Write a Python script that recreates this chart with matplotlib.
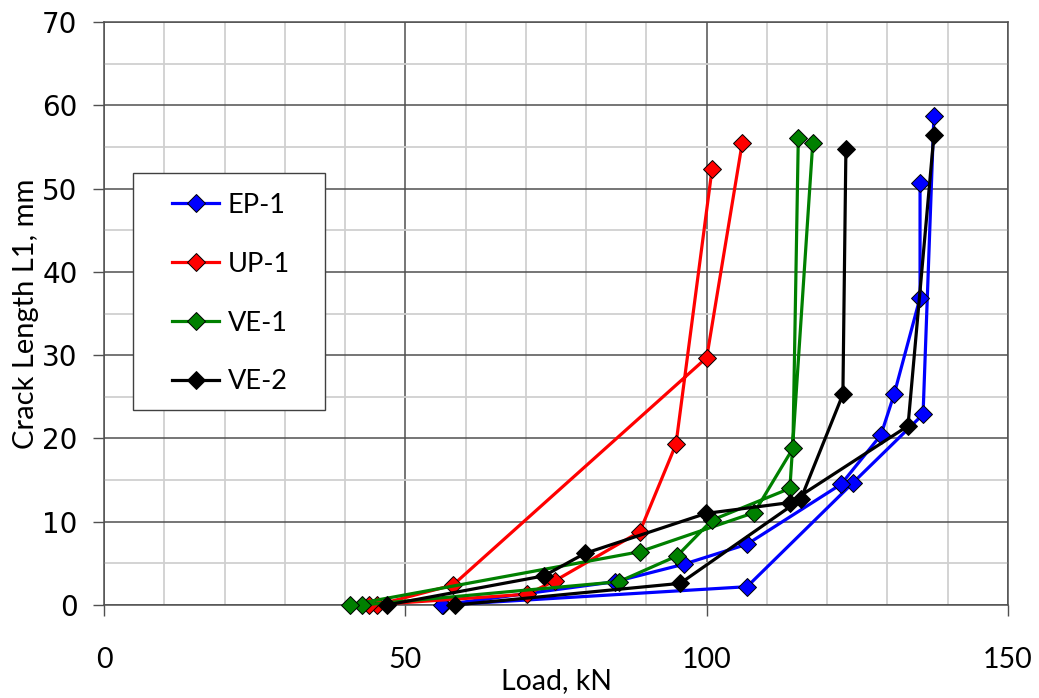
import numpy as np
import matplotlib
matplotlib.use('Agg')
import matplotlib.pyplot as plt
from matplotlib.ticker import MultipleLocator
from matplotlib.patches import Rectangle

# ---------------- data (Load, kN  vs  Crack Length L1, mm) ----------------
series_names = ['EP-1', 'UP-1', 'VE-1', 'VE-2']
series_colors = ['#0000FF', '#FF0000', '#008000', '#000000']

ep1_a_load = [56.3, 106.7, 124.3, 135.9, 137.7]
ep1_a_crack = [0.0, 2.2, 14.7, 22.9, 58.7]
ep1_b_load = [56.0, 84.8, 96.2, 106.7, 122.3, 128.9, 131.1, 135.4, 135.4]
ep1_b_crack = [0.0, 2.8, 4.9, 7.3, 14.5, 20.4, 25.3, 36.9, 50.7]

up1_a_load = [45.3, 57.9, 100.0, 105.9]
up1_a_crack = [0.0, 2.4, 29.7, 55.5]
up1_b_load = [44.0, 70.2, 74.8, 88.9, 94.9, 100.9]
up1_b_crack = [0.0, 1.3, 2.9, 8.8, 19.3, 52.4]

ve1_a_load = [42.8, 85.4, 95.1, 100.9, 113.8, 117.6]
ve1_a_crack = [0.0, 2.8, 5.9, 10.2, 14.0, 55.5]
ve1_b_load = [40.8, 88.9, 107.9, 114.3, 115.2]
ve1_b_crack = [0.0, 6.4, 11.1, 18.8, 56.1]

ve2_a_load = [46.9, 73.0, 79.8, 99.9, 113.8, 133.4, 137.7]
ve2_a_crack = [0.0, 3.5, 6.2, 11.0, 12.3, 21.5, 56.4]
ve2_b_load = [58.2, 95.6, 115.6, 122.6, 123.1]
ve2_b_crack = [0.0, 2.6, 12.7, 25.3, 54.8]

x_ticks = [0, 50, 100, 150]
y_ticks = [0, 10, 20, 30, 40, 50, 60, 70]
x_label = 'Load, kN'
y_label = 'Crack Length L1, mm'


def join(a_x, a_y, b_x, b_y):
    x = list(a_x) + [np.nan] + list(b_x)
    y = list(a_y) + [np.nan] + list(b_y)
    return x, y


series_data = [
    join(ep1_a_load, ep1_a_crack, ep1_b_load, ep1_b_crack),
    join(up1_a_load, up1_a_crack, up1_b_load, up1_b_crack),
    join(ve1_a_load, ve1_a_crack, ve1_b_load, ve1_b_crack),
    join(ve2_a_load, ve2_a_crack, ve2_b_load, ve2_b_crack),
]

# ---------------- figure ----------------
fig = plt.figure(figsize=(10.39, 6.98), dpi=100)
ax = fig.add_axes([0.1001, 0.1332, 0.8701, 0.8353])

handles = []
for (xs, ys), name, col in zip(series_data, series_names, series_colors):
    h, = ax.plot(xs, ys, color=col, lw=2.3, marker='D', markersize=9.5,
                 markerfacecolor=col, markeredgecolor='black',
                 markeredgewidth=0.7, label=name, zorder=3, clip_on=False)
    handles.append(h)

ax.set_xlim(0, 150)
ax.set_ylim(0, 70)
ax.xaxis.set_major_locator(MultipleLocator(50))
ax.xaxis.set_minor_locator(MultipleLocator(10))
ax.yaxis.set_major_locator(MultipleLocator(10))
ax.yaxis.set_minor_locator(MultipleLocator(5))
ax.set_xticks(x_ticks)
ax.set_yticks(y_ticks)

ax.grid(which='major', color='#505050', lw=1.1, zorder=1)
ax.grid(which='minor', color='#d0d0d0', lw=1.3, zorder=0)
ax.set_axisbelow(True)

for s in ax.spines.values():
    s.set_color('#505050')
    s.set_linewidth(1.1)

ax.tick_params(axis='both', which='minor', length=0)
ax.tick_params(axis='y', which='major', length=8, width=1.0, color='#505050',
               pad=11)
ax.tick_params(axis='x', which='major', length=8, width=1.0, color='#505050',
               pad=22)

for lab in ax.get_yticklabels():
    lab.set_fontfamily('DejaVu Sans')
    lab.set_fontsize(20)
for lab in ax.get_xticklabels():
    lab.set_fontfamily('Lato')
    lab.set_fontsize(20.5)

ax.set_xlabel(x_label, fontfamily='Lato', fontsize=20.5, labelpad=-3)
ax.set_ylabel(y_label, fontfamily='Lato', fontsize=21, labelpad=2)

# legend frame
rect = Rectangle((0.032, 0.3345), 0.2125, 0.4065, transform=ax.transAxes,
                 facecolor='white', edgecolor='#404040', lw=1.0, zorder=4)
ax.add_patch(rect)
leg = ax.legend(handles=handles, loc='upper left',
                bbox_to_anchor=(0.0752, 0.707), borderaxespad=0,
                borderpad=0, frameon=False, prop={'family': 'Lato', 'size': 19.5},
                handlelength=1.75, handletextpad=0.3, labelspacing=1.25)
leg.set_zorder(5)

fig.savefig('out.png', dpi=100)
